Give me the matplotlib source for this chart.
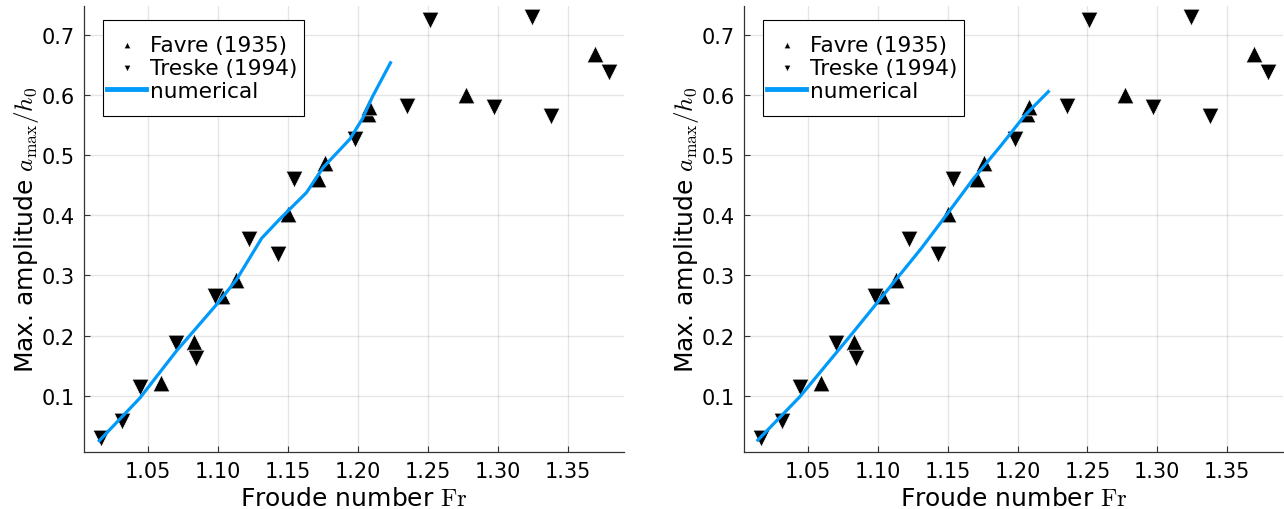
import numpy as np
import matplotlib
matplotlib.use('Agg')
import matplotlib.pyplot as plt
from matplotlib.patches import Rectangle

favre_fr = [1.059, 1.083, 1.103, 1.113, 1.150, 1.171, 1.176, 1.207, 1.208, 1.277, 1.369]
favre_amp = [0.121, 0.190, 0.266, 0.293, 0.402, 0.460, 0.488, 0.569, 0.580, 0.600, 0.668]

treske_fr = [1.016, 1.031, 1.044, 1.070, 1.084, 1.098, 1.122, 1.143, 1.154, 1.198,
             1.235, 1.251, 1.297, 1.324, 1.338, 1.379]
treske_amp = [0.030, 0.058, 0.115, 0.188, 0.162, 0.266, 0.360, 0.335, 0.460, 0.527,
              0.582, 0.725, 0.580, 0.731, 0.565, 0.638]

# numerical curves (left / right panel)
num_fr_left = [1.015, 1.044, 1.070, 1.100, 1.113, 1.131, 1.144, 1.163, 1.175, 1.194, 1.203, 1.210, 1.223]
num_amp_left = [0.025, 0.096, 0.174, 0.255, 0.293, 0.362, 0.394, 0.438, 0.480, 0.527, 0.561, 0.597, 0.654]

num_fr_right = [1.014, 1.044, 1.080, 1.131, 1.1485, 1.168, 1.188, 1.205, 1.222]
num_amp_right = [0.026, 0.098, 0.199, 0.345, 0.399, 0.460, 0.516, 0.566, 0.606]

xticks = [1.05, 1.10, 1.15, 1.20, 1.25, 1.30, 1.35]
yticks = [0.1, 0.2, 0.3, 0.4, 0.5, 0.6, 0.7]

plt.rcParams['font.family'] = ['DejaVu Sans']
plt.rcParams['mathtext.fontset'] = 'cm'

W, H = 1284, 510
fig = plt.figure(figsize=(W / 100, H / 100), dpi=100)

line_blue = '#009AFA'
fs = 15
ax_top, ax_bot = 6.7, 452.7


def panel(left_px, right_px, num_fr, num_amp):
    wpx = right_px - left_px
    hpx = ax_bot - ax_top
    ax = fig.add_axes([left_px / W, 1 - ax_bot / H, wpx / W, hpx / H])
    ax.scatter(favre_fr, favre_amp, marker='^', s=12 ** 2, c='black',
               edgecolors='white', linewidths=0.5, label='Favre (1935)', zorder=3)
    ax.scatter(treske_fr, treske_amp, marker='v', s=12 ** 2, c='black',
               edgecolors='white', linewidths=0.5, label='Treske (1994)', zorder=3)
    ax.plot(num_fr, num_amp, color=line_blue, lw=2.3, label='numerical', zorder=4)

    ax.set_xlim(1.0043, 1.39)
    ax.set_ylim(0.0067, 0.749)
    ax.set_xticks(xticks)
    ax.set_xticklabels(['%.2f' % t for t in xticks])
    ax.set_yticks(yticks)
    ax.set_yticklabels(['%.1f' % t for t in yticks])
    ax.tick_params(direction='in', length=4, width=0.8, labelsize=fs, pad=7, color='#333333')
    ax.grid(True, color='black', alpha=0.1, lw=1.0)
    ax.set_axisbelow(True)
    for s in ['top', 'right']:
        ax.spines[s].set_visible(False)
    for s in ['left', 'bottom']:
        ax.spines[s].set_linewidth(0.9)
        ax.spines[s].set_color('#333333')

    ax.set_xlabel(r'Froude number $\mathrm{Fr}$', fontsize=18, labelpad=3)
    ax.set_ylabel(r'Max. amplitude $a_{\max}/h_0$', fontsize=18, labelpad=0.5)

    # legend entries without frame, box drawn separately (uneven padding)
    leg = ax.legend(loc='upper left',
                    bbox_to_anchor=((107 - 84.3) / wpx, 1 - (36.0 - ax_top) / hpx),
                    borderaxespad=0, borderpad=0, frameon=False,
                    fontsize=15.6, markerscale=0.4, handlelength=1.8, handletextpad=0.2,
                    labelspacing=0.13)
    leg.set_zorder(6)
    for ln in leg.get_lines():
        ln.set_linewidth(3.5)
    box = Rectangle(((102.6 - 84.3) / wpx, 1 - (117 - ax_top) / hpx),
                    201 / wpx, 96 / hpx, transform=ax.transAxes,
                    facecolor='white', edgecolor='black', lw=0.8, zorder=5)
    ax.add_patch(box)
    return ax


panel(84.3, 624.3, num_fr_left, num_amp_left)
panel(744.3, 1283.0, num_fr_right, num_amp_right)

fig.savefig('out.png', dpi=100)
